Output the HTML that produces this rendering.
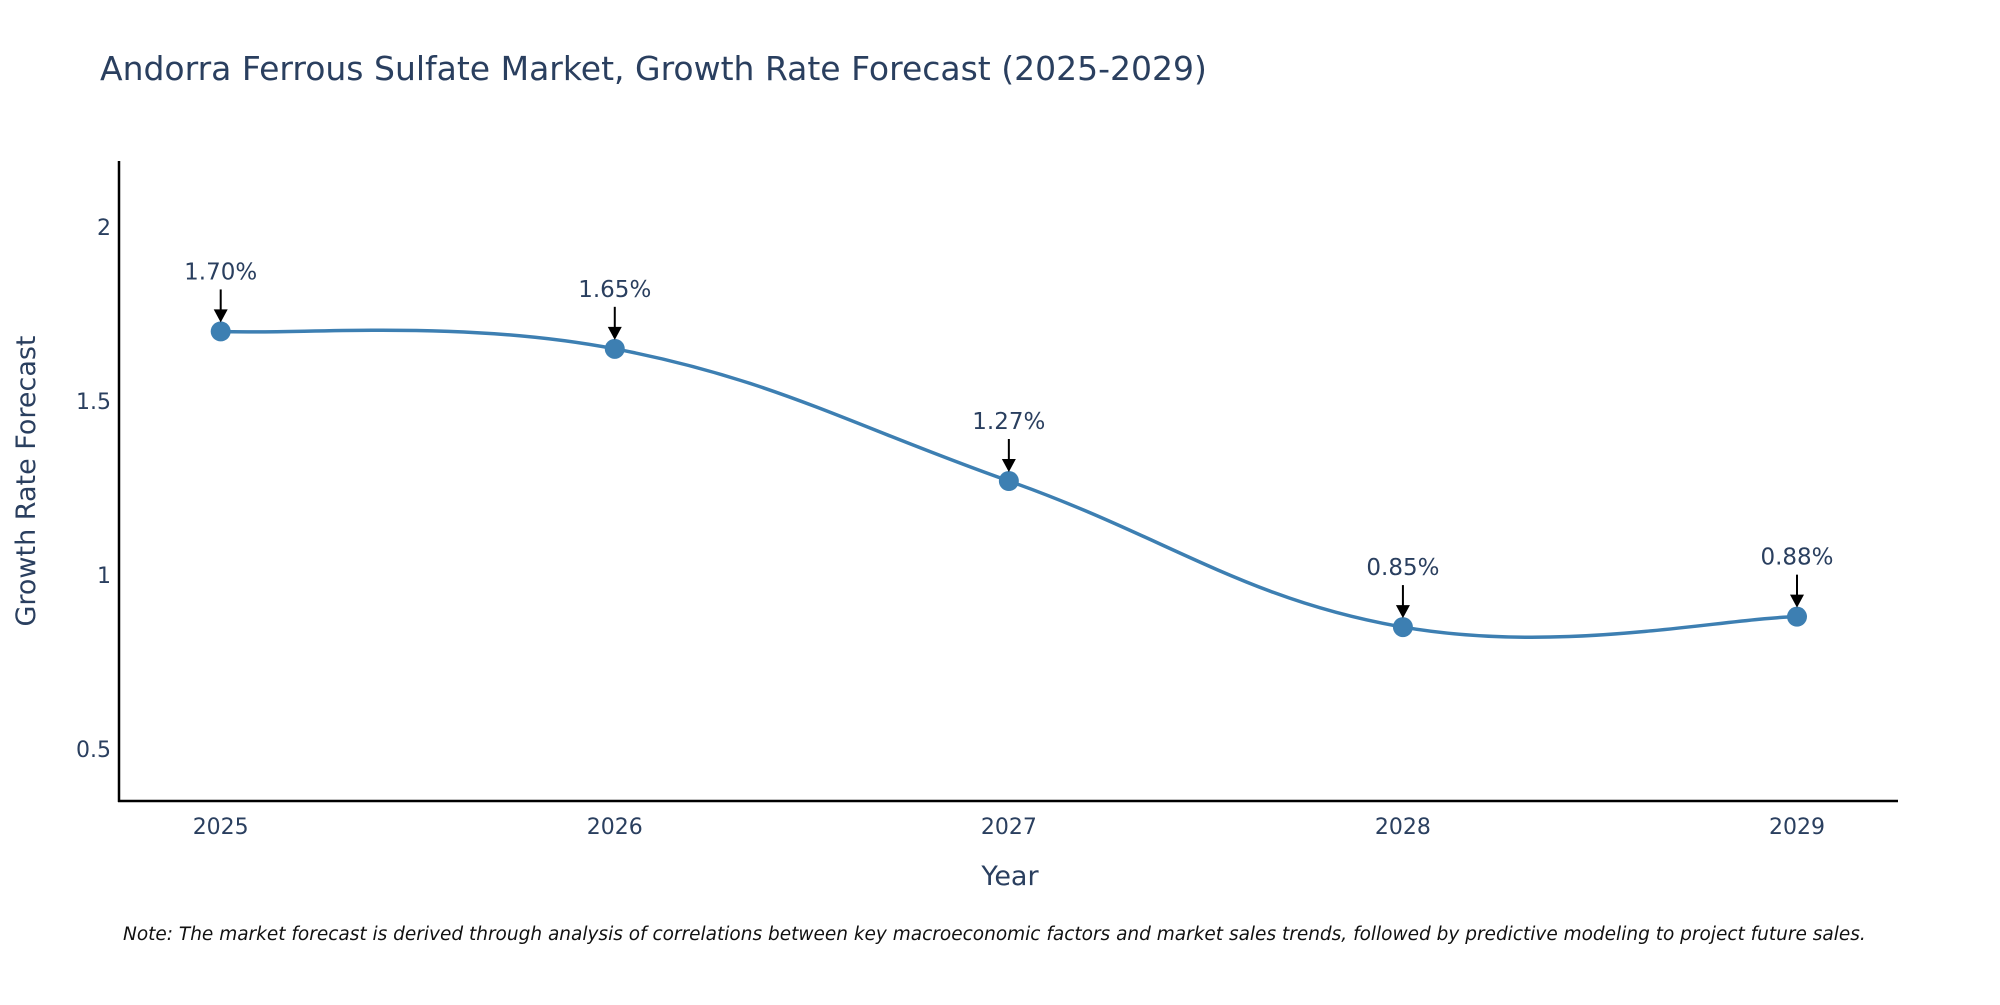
<!DOCTYPE html>
<html><head><meta charset="utf-8"><style>
body{margin:0;background:#fff;}
svg text{font-family:"DejaVu Sans","Liberation Sans",sans-serif;fill:#2a3f5f;}
</style></head><body>
<svg id="chart" width="2000" height="1000" xmlns="http://www.w3.org/2000/svg">
<text x="100" y="80" font-size="33">Andorra Ferrous Sulfate Market, Growth Rate Forecast (2025-2029)</text>
<g id="axes"></g>
<g id="series"></g>
<text x="123" y="940" font-size="18.5" font-style="italic" style="fill:#111">Note: The market forecast is derived through analysis of correlations between key macroeconomic factors and market sales trends, followed by predictive modeling to project future sales.</text>
</svg>
<script>
const categories=["2025","2026","2027","2028","2029"];
const values=[1.70,1.65,1.27,0.85,0.88];
const valueLabels=["1.70%","1.65%","1.27%","0.85%","0.88%"];
const yTicks=[0.5,1,1.5,2];
const yTickLabels=["0.5","1","1.5","2"];
const NS="http://www.w3.org/2000/svg";
const L=119,R=1898,T=161,B=801;
const yMin=0.35,yMax=2.19;
function xs(i){return 220.7+i*(1797-220.7)/(categories.length-1);}
function ys(v){return B-(v-yMin)/(yMax-yMin)*(B-T);}
function mk(tag,attrs,parent,name,txt){const e=document.createElementNS(NS,tag);for(const k in attrs)e.setAttribute(k,attrs[k]);


if(txt!==undefined)e.textContent=txt;parent.appendChild(e);return e;}
const ax=document.getElementById('axes'),se=document.getElementById('series');
mk('line',{x1:L,y1:T,x2:L,y2:B+1,stroke:'#000','stroke-width':2.5},ax,'y-axis-line');
mk('line',{x1:L-1,y1:B,x2:R,y2:B,stroke:'#000','stroke-width':2.5},ax,'x-axis-line');
yTicks.forEach((t,i)=>{mk('text',{x:L-8,y:ys(t)+8,'font-size':22,'text-anchor':'end'},ax,'y-tick-label',yTickLabels[i]);});
categories.forEach((c,i)=>{mk('text',{x:xs(i),y:834,'font-size':22,'text-anchor':'middle'},ax,'x-tick-label',c);});
mk('text',{x:1010,y:885,'font-size':27,'text-anchor':'middle'},ax,'x-axis-title','Year');
mk('text',{x:35,y:481,'font-size':27,'text-anchor':'middle',transform:'rotate(-90 35 481)'},ax,'y-axis-title','Growth Rate Forecast');
const pts=values.map((v,i)=>[xs(i),ys(v)]);
let d='M'+pts[0][0]+','+pts[0][1];const tsn=0.2;
for(let i=0;i<pts.length-1;i++){const p0=pts[Math.max(0,i-1)],p1=pts[i],p2=pts[i+1],p3=pts[Math.min(pts.length-1,i+2)];
const c1=[p1[0]+(p2[0]-p0[0])*tsn,p1[1]+(p2[1]-p0[1])*tsn],c2=[p2[0]-(p3[0]-p1[0])*tsn,p2[1]-(p3[1]-p1[1])*tsn];
d+=' C'+c1+' '+c2+' '+p2;}
mk('path',{d:d,fill:'none',stroke:'#3d7fb2','stroke-width':3.5},se,'growth-line');
pts.forEach((p,i)=>{mk('circle',{cx:p[0],cy:p[1],r:10,fill:'#3d7fb2'},se,'data-point-'+categories[i]);
mk('line',{x1:p[0],y1:p[1]-42,x2:p[0],y2:p[1]-20,stroke:'#000','stroke-width':2},se,'annotation-arrow');
mk('polygon',{points:`${p[0]-7},${p[1]-22} ${p[0]+7},${p[1]-22} ${p[0]},${p[1]-9}`,fill:'#000'},se,'annotation-arrowhead');
mk('text',{x:p[0],y:p[1]-52,'font-size':23,'text-anchor':'middle'},se,'value-label',valueLabels[i]);});
</script>
</body></html>
